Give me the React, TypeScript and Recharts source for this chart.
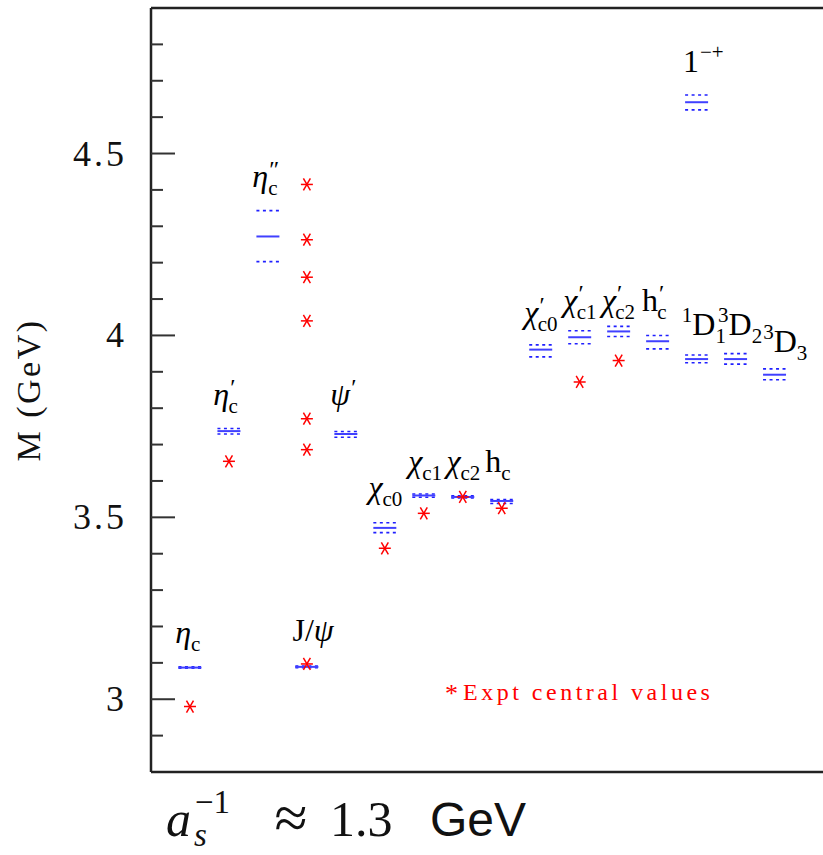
import React from "react";
import { ScatterChart, Scatter, XAxis, YAxis, Customized } from "recharts";

// lattice levels: slot on the x axis, central mass and the band (GeV)
const levelX = [1, 2, 3, 4, 5, 6, 7, 8, 9, 10, 11, 12, 13, 14, 15, 16, 14];
const levelMass = [3.087, 3.737, 4.272, 3.089, 3.729, 3.471, 3.560, 3.556, 3.545, 3.961, 3.995, 4.011, 3.984, 3.935, 3.935, 3.892, 4.641];
const levelHigh = [3.089, 3.744, 4.343, 3.091, 3.736, 3.485, 3.564, 3.559, 3.549, 3.974, 4.013, 4.025, 4.000, 3.946, 3.950, 3.908, 4.661];
const levelLow = [3.085, 3.729, 4.203, 3.087, 3.720, 3.458, 3.555, 3.553, 3.538, 3.941, 3.977, 3.997, 3.963, 3.925, 3.921, 3.878, 4.620];

// experimental central values
const exptX = [1, 2, 4, 4, 4, 4, 4, 4, 4, 6, 7, 8, 9, 11, 12];
const exptMass = [2.980, 3.654, 3.097, 3.686, 3.771, 4.040, 4.160, 4.263, 4.415, 3.415, 3.511, 3.556, 3.525, 3.872, 3.931];

// state labels
const labelPre = ["", "", "", "", "", "", "", "", "", "", "", "", "", "1", "3", "3", ""];
const labelBase = ["η", "η", "η", "J/ψ", "ψ", "χ", "χ", "χ", "h", "χ", "χ", "χ", "h", "D", "D", "D", "1"];
const labelSup = ["", "′", "″", "", "′", "", "", "", "", "′", "′", "′", "′", "", "", "", "−+"];
const labelSub = ["c", "c", "c", "", "", "c0", "c1", "c2", "c", "c0", "c1", "c2", "c", "1", "2", "3", ""];
const labelX = [0.62, 1.6, 2.6, 3.63, 4.6, 5.58, 6.6, 7.58, 8.58, 9.58, 10.58, 11.57, 12.6, 13.62, 14.55, 15.71, 13.65];
const labelY = [3.154, 3.81, 4.407, 3.159, 3.81, 3.552, 3.624, 3.624, 3.624, 4.034, 4.066, 4.066, 4.066, 4.0, 4.0, 3.954, 4.723];

const yTicks = [2.9, 3, 3.1, 3.2, 3.3, 3.4, 3.5, 3.6, 3.7, 3.8, 3.9, 4, 4.1, 4.2, 4.3, 4.4, 4.5, 4.6, 4.7, 4.8];
const majorTicks = [3, 3.5, 4, 4.5];

const levelData = levelX.map((x, i) => ({ x, y: levelMass[i] }));
const highData = levelX.map((x, i) => ({ x, y: levelHigh[i] }));
const lowData = levelX.map((x, i) => ({ x, y: levelLow[i] }));
const exptData = exptX.map((x, i) => ({ x, y: exptMass[i] }));
const labelData = labelX.map((x, i) => ({ x, y: labelY[i], i }));

const SERIF = "'Liberation Serif', 'DejaVu Serif', serif";
const isMajor = (v: number) => majorTicks.some((m) => Math.abs(m - v) < 1e-6);

const LeftTick = (props: any) => {
  const { x, y, payload } = props;
  const major = isMajor(payload.value);
  return (
    <g>
      <line x1={x} x2={x + (major ? 24 : 12)} y1={y} y2={y} stroke="#333" strokeWidth={2} />
      {major && (
        <text x={x - 24} y={y} dy={12} textAnchor="end" fontFamily={SERIF} fontSize={36} letterSpacing={3} fill="#111">
          {String(payload.value)}
        </text>
      )}
    </g>
  );
};

const RightTick = (props: any) => {
  const { x, y, payload } = props;
  const major = isMajor(payload.value);
  return <line x1={x} x2={x - (major ? 24 : 12)} y1={y} y2={y} stroke="#333" strokeWidth={2} />;
};

const SolidLevel = (props: any) => (
  <line x1={props.cx - 11.5} x2={props.cx + 11.5} y1={props.cy} y2={props.cy} stroke="#4040ff" strokeWidth={2} />
);

const DottedLevel = (props: any) => (
  <line x1={props.cx - 11.5} x2={props.cx + 11.5} y1={props.cy} y2={props.cy} stroke="#2020ff" strokeWidth={1.6} strokeDasharray="3 3.5" />
);

const Star = (props: any) => {
  const { cx, cy } = props;
  return (
    <g stroke="#ff0000" strokeWidth={1.5}>
      <line x1={cx - 6} x2={cx + 6} y1={cy} y2={cy} />
      <line x1={cx - 3.5} x2={cx + 3.5} y1={cy - 6} y2={cy + 6} />
      <line x1={cx + 3.5} x2={cx - 3.5} y1={cy - 6} y2={cy + 6} />
    </g>
  );
};

const StateLabel = (props: any) => {
  const { cx, cy, payload } = props;
  const i = payload.i;
  const pre = labelPre[i];
  const sup = labelSup[i];
  const sub = labelSub[i];
  const isPrime = sup === "′" || sup === "″";
  const supDy = isPrime ? -10 : -13;
  // width of the prime, so that the subscript sits under it
  const supWidth = sup === "″" ? 10 : sup === "′" ? 6 : 0;
  const chars = Array.from(labelBase[i]);
  return (
    <text x={cx} y={cy} fontFamily={SERIF} fontSize={32} fill="#000">
      {pre && <tspan fontSize={21} dy={-13}>{pre}</tspan>}
      {chars.map((ch, j) => (
        <tspan key={j} dy={j === 0 && pre ? 13 : undefined} fontStyle={/[\u03b1-\u03c9]/.test(ch) ? "italic" : "normal"}>
          {ch}
        </tspan>
      ))}
      {sup && <tspan fontSize={isPrime ? 24 : 21} dy={supDy} dx={1}>{sup}</tspan>}
      {sub && (
        <tspan fontSize={21} dx={sup ? -supWidth - 1 : 0} dy={sup ? -supDy + 8 : 8}>
          {sub}
        </tspan>
      )}
    </text>
  );
};

const Decorations = () => (
  <g>
    <text transform="translate(40,390) rotate(-90)" textAnchor="middle" fontFamily={SERIF} fontSize={34} letterSpacing={2.5} fill="#111">
      M (GeV)
    </text>
    <text x={445} y={702} fontFamily={SERIF} fontSize={26} fill="#ff0000">*</text>
    <text x={463} y={700} fontFamily={SERIF} fontSize={24} letterSpacing={3.5} fill="#ff0000">
      Expt central values
    </text>
    <g fontFamily={SERIF} fill="#111">
      <text x={166} y={836} fontSize={50} fontStyle="italic">a</text>
      <text x={195} y={813} fontSize={33}>−1</text>
      <text x={194} y={846} fontSize={33} fontStyle="italic">s</text>
      <text x={291} y={838} fontSize={60} textAnchor="middle">≈</text>
      <text x={330} y={836} fontSize={50}>1.3</text>
    </g>
    <text x={430} y={836} fontFamily="'Liberation Sans', Arial, sans-serif" fontSize={48} fill="#111">GeV</text>
  </g>
);

export default function App() {
  return (
    <div style={{ position: "absolute", left: 0, top: 0, width: 823, height: 855, overflow: "hidden", background: "#fff" }}>
      <ScatterChart width={847} height={855} margin={{ top: 7, right: 0, bottom: 82, left: 91 }}>
        <XAxis xAxisId="b" type="number" dataKey="x" domain={[0, 17.5]} orientation="bottom" height={1}
          tick={false} tickLine={false} axisLine={{ stroke: "#222", strokeWidth: 2.5 }} />
        <XAxis xAxisId="t" type="number" dataKey="x" domain={[0, 17.5]} orientation="top" height={1}
          tick={false} tickLine={false} axisLine={{ stroke: "#222", strokeWidth: 2.5 }} />
        <YAxis yAxisId="l" type="number" dataKey="y" domain={[2.8, 4.9]} width={60} ticks={yTicks} interval={0}
          tickSize={0} tickMargin={0} tick={<LeftTick />} tickLine={false} axisLine={{ stroke: "#222", strokeWidth: 2.5 }} />
        <YAxis yAxisId="r" orientation="right" type="number" dataKey="y" domain={[2.8, 4.9]} width={14} ticks={yTicks}
          interval={0} tickSize={0} tickMargin={0} tick={<RightTick />} tickLine={false} axisLine={{ stroke: "#222", strokeWidth: 2.5 }} />
        <Scatter name="lattice high" data={highData} xAxisId="b" yAxisId="l" shape={DottedLevel} isAnimationActive={false} />
        <Scatter name="lattice low" data={lowData} xAxisId="b" yAxisId="l" shape={DottedLevel} isAnimationActive={false} />
        <Scatter name="lattice" data={levelData} xAxisId="b" yAxisId="l" shape={SolidLevel} isAnimationActive={false} />
        <Scatter name="expt" data={exptData} xAxisId="b" yAxisId="l" shape={Star} isAnimationActive={false} />
        <Scatter name="labels" data={labelData} xAxisId="b" yAxisId="l" shape={StateLabel} isAnimationActive={false} />
        <Customized component={Decorations} />
      </ScatterChart>
    </div>
  );
}
